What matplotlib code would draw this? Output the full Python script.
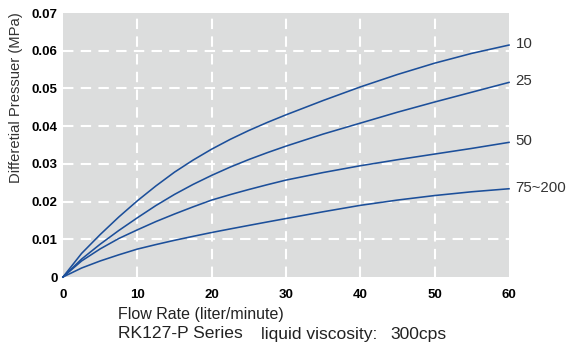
import matplotlib
matplotlib.use("Agg")
import matplotlib.pyplot as plt

flow = [0, 2.5, 5, 7.5, 10, 12.5, 15, 17.5, 20, 22.5, 25, 27.5, 30, 35, 40, 45, 50, 55, 60]
p10 = [0, 0.00625, 0.01125, 0.0159, 0.0202, 0.02415, 0.0278, 0.0310, 0.0339, 0.0365,
       0.03885, 0.0410, 0.0430, 0.0468, 0.0504, 0.0537, 0.0567, 0.0593, 0.0615]
p25 = [0, 0.00475, 0.0087, 0.01232, 0.0157, 0.01895, 0.0219, 0.02455, 0.02695, 0.02915,
       0.03115, 0.03298, 0.0347, 0.0379, 0.0408, 0.0437, 0.0464, 0.0490, 0.0516]
p50 = [0, 0.00425, 0.00745, 0.0102, 0.0125, 0.0147, 0.0167, 0.0186, 0.0204, 0.02185,
       0.0232, 0.02448, 0.0257, 0.0277, 0.0295, 0.0311, 0.0326, 0.0341, 0.0357]
p75 = [0, 0.00238, 0.00425, 0.00588, 0.0074, 0.0086, 0.00973, 0.01078, 0.0118, 0.01275,
       0.01368, 0.0146, 0.0155, 0.0173, 0.0190, 0.0204, 0.0216, 0.0226, 0.0234]
series = [p10, p25, p50, p75]
labels = ["10", "25", "50", "75~200"]
xticks = [0, 10, 20, 30, 40, 50, 60]
yticks = [0, 0.01, 0.02, 0.03, 0.04, 0.05, 0.06, 0.07]
ytick_labels = ["0", "0.01", "0.02", "0.03", "0.04", "0.05", "0.06", "0.07"]

plt.rcParams['font.family'] = ['Liberation Sans', 'DejaVu Sans']

fig = plt.figure(figsize=(5.67, 3.44), dpi=100)
ax = fig.add_axes([63/567, 1-277/344, (509-63)/567, (277-13)/344])
ax.set_facecolor('#dcdddd')
ax.set_xlim(0, 60)
ax.set_ylim(0, 0.07)
for s in ax.spines.values():
    s.set_visible(False)

for gx in xticks[1:-1]:
    ax.axvline(gx, color='white', lw=1.5, ls=(0, (5, 3.5)), zorder=1)
for gy in yticks[1:-1]:
    ax.axhline(gy, color='white', lw=1.5, ls=(0, (5, 3.5)), zorder=1)

line_color = '#1c4f9a'
for ys, lab in zip(series, labels):
    ax.plot(flow, ys, color=line_color, lw=1.15, zorder=3, clip_on=False,
            solid_joinstyle='round')
    ax.text(60.9, ys[-1] + 0.0003, lab, fontsize=10.8, color='#333333',
            va='center', ha='left')

ax.set_xticks(xticks)
ax.set_xticklabels([str(v) for v in xticks], fontsize=9.5, fontweight='bold')
ax.set_yticks(yticks)
ax.set_yticklabels(ytick_labels, fontsize=9.5, fontweight='bold')
ax.tick_params(axis='both', length=0)
ax.tick_params(axis='x', pad=9)
ax.tick_params(axis='y', pad=4)

fig.text(16/567, 1-98/344, "Differetial Pressuer (MPa)", rotation=90,
         fontsize=10.6, color='#333333', ha='center', va='center')
fig.text(118/567, 1-314/344, "Flow Rate (liter/minute)", fontsize=11.5,
         color='#222222', ha='left', va='center')
y2 = 1 - 334/344
fig.text(118/567, y2, "RK127-P Series", fontsize=12.6, color='#222222', ha='left', va='center')
fig.text(261/567, y2, "liquid viscosity:", fontsize=12.6, color='#222222', ha='left', va='center')
fig.text(390/567, y2, "300cps", fontsize=12.6, color='#222222', ha='left', va='center')

fig.savefig("out.png", dpi=100)
